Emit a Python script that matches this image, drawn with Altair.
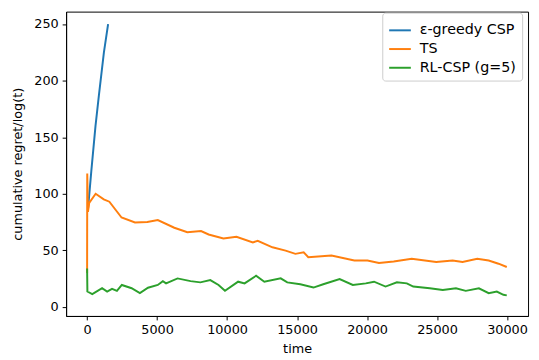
import altair as alt
import pandas as pd

series_names = ["ε-greedy CSP", "TS", "RL-CSP (g=5)"]
colors = ["#1f77b4", "#ff7f0e", "#2ca02c"]

eps_t = [60, 300, 600, 842, 1200, 1500]
eps_v = [86, 120, 160, 187, 225, 250]

ts_t = [0, 10, 60, 150, 610, 1190, 1590, 2460, 3420, 4300, 5050, 6230, 7160, 8140, 8680,
        9740, 10670, 11840, 12190, 13240, 14180, 14880, 15470, 15800, 17460, 19090, 20030,
        20850, 21900, 23190, 24940, 26110, 26820, 27870, 28690, 29390, 29980]
ts_v = [30, 118, 84, 92, 100, 95, 93, 79, 74.6, 75, 76.7, 70, 66, 67, 64,
        60.5, 62, 57, 58.4, 52.7, 49.8, 46.9, 48.3, 44, 45.4, 41, 41,
        38.8, 40.2, 42.5, 39.7, 41, 39.7, 42.5, 41, 38.2, 35.3]

rl_t = [0, 20, 370, 1070, 1430, 1780, 2130, 2480, 3180, 3770, 4350, 5050, 5410, 5640, 6460,
        7390, 8090, 8800, 9390, 9850, 10790, 11250, 12070, 12660, 13830, 14300, 15230, 16170,
        16870, 18040, 18980, 19910, 20500, 21320, 22130, 22840, 23300, 24480, 25410, 26350,
        27050, 27990, 28690, 29270, 29740, 29980]
rl_v = [34, 13.6, 11.3, 16.5, 13.6, 15.9, 14.2, 19.4, 16.5, 12.2, 17, 19.4, 22.8, 20.8, 25.2,
        22.8, 21.7, 23.7, 19.4, 14.2, 22.3, 20.8, 27.5, 22.3, 25.2, 21.7, 20, 17.1,
        20, 24.6, 19.4, 20.8, 22.3, 18, 21.7, 20.8, 18, 16.5, 15, 16.5,
        14.2, 16.5, 12.2, 13.6, 10.7, 10.2]

x_ticks = [0, 5000, 10000, 15000, 20000, 25000, 30000]
y_ticks = [0, 50, 100, 150, 200, 250]

W, H = 469, 309

rows = []
for name, ts, vs in zip(series_names, [eps_t, ts_t, rl_t], [eps_v, ts_v, rl_v]):
    for i, (t, v) in enumerate(zip(ts, vs)):
        rows.append({"series": name, "time": t, "value": v, "idx": i})
df = pd.DataFrame(rows)

color_scale = alt.Scale(domain=series_names, range=colors)

layers = []
for name in series_names:
    layers.append(
        alt.Chart(df[df.series == name]).mark_line(strokeWidth=2).encode(
            x=alt.X("time:Q", scale=alt.Scale(domain=[-1500, 31500], nice=False, zero=False),
                    axis=alt.Axis(values=x_ticks, format="d", title="time")),
            y=alt.Y("value:Q", scale=alt.Scale(domain=[-8, 261], nice=False, zero=False),
                    axis=alt.Axis(values=y_ticks, format="d", title="cumulative regret/log(t)")),
            color=alt.Color("series:N", scale=color_scale, title=None,
                            legend=alt.Legend(orient="none", legendX=321, legendY=1,
                                              symbolType="stroke", symbolStrokeWidth=2,
                                              symbolSize=484, labelFontSize=14.5,
                                              labelFont="DejaVu Sans", labelColor="#000",
                                              fillColor="white", strokeColor="#cccccc",
                                              cornerRadius=3, padding=6, rowPadding=0,
                                              labelOffset=8)),
            order="idx:Q",
        )
    )

chart = alt.layer(*layers).properties(
    width=W, height=H,
    autosize=alt.AutoSizeParams(type="none"),
    padding={"left": 59, "top": 1, "right": 3, "bottom": 40},
).configure_view(stroke="#000000", strokeWidth=1).configure_axis(
    grid=False, domain=True, domainColor="#000000", domainWidth=1,
    tickColor="black", tickSize=4, tickWidth=1,
    labelFont="DejaVu Sans", labelFontSize=13, labelColor="black", labelPadding=4,
    titleFont="DejaVu Sans", titleFontSize=13, titleColor="black", titleFontWeight="normal",
).configure_axisY(titlePadding=9).configure_axisX(titlePadding=6)

chart.save("out.html", embed_options={"renderer": "svg", "actions": False})
